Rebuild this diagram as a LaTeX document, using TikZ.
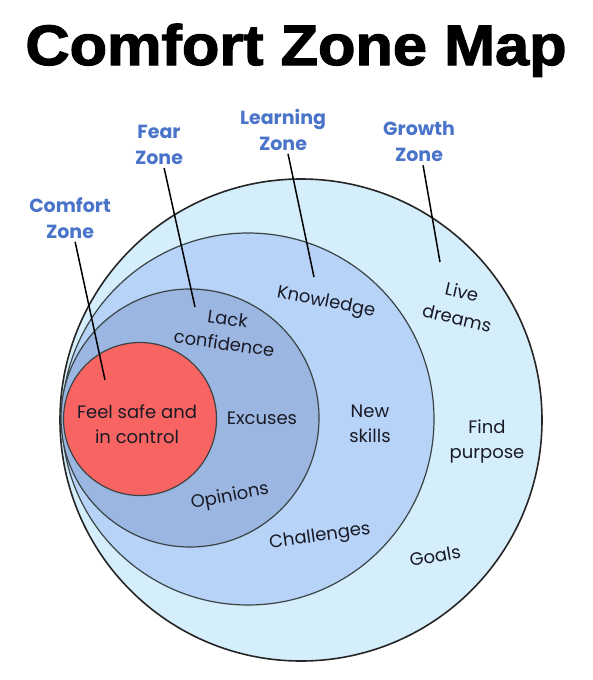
\documentclass[tikz,border=0pt]{standalone}
\usepackage{fontspec}
\setmainfont{Poppins}
\newfontfamily\titlefont[FakeBold=2]{Liberation Sans Bold}
\definecolor{growthfill}{HTML}{D5EEFB}
\definecolor{learnfill}{HTML}{B7D3F8}
\definecolor{fearfill}{HTML}{9CB6E2}
\definecolor{comfortfill}{HTML}{F86462}
\definecolor{zoneblue}{HTML}{4A74C9}
\definecolor{bodyink}{HTML}{1A1A26}
\definecolor{ringline}{HTML}{3A4444}
\tikzset{
  ring/.style={circle, draw=ringline, line width=1.2pt, inner sep=0pt},
  zonelabel/.style={font=\fontsize{19}{26}\selectfont\bfseries, text=zoneblue, align=center, inner sep=3pt},
  body/.style={font=\fontsize{18}{25}\selectfont, text=bodyink, align=center, inner sep=0pt},
  pointer/.style={draw=black, line width=1.5pt}
}
\begin{document}
\begin{tikzpicture}[x=1pt,y=-1pt]
\useasboundingbox (0,0) rectangle (593,680);
\fill[white] (0,0) rectangle (593,680);
% title
\node[font=\titlefont\fontsize{57}{60}\selectfont, xscale=1.075, anchor=base] (title) at (296,65) {Comfort Zone Map};
% rings
\node[ring, fill=growthfill, draw=black!85, line width=1.6pt, minimum size=482pt] (growth) at (301,420) {};
\node[ring, fill=learnfill, minimum size=372pt] (learning) at (248,419) {};
\node[ring, fill=fearfill, minimum size=258pt] (fear) at (190,418) {};
\node[ring, fill=comfortfill, minimum size=153pt] (comfort) at (140,419) {};
% zone labels
\node[zonelabel] (lblComfort) at (70,218) {Comfort\\Zone};
\node[zonelabel] (lblFear) at (159,145) {Fear\\Zone};
\node[zonelabel] (lblLearning) at (283,130) {Learning\\Zone};
\node[zonelabel] (lblGrowth) at (419,142) {Growth\\Zone};
% pointer ends
\coordinate (endComfort) at (105,380);
\coordinate (endFear) at (195,307);
\coordinate (endLearning) at (314,277);
\coordinate (endGrowth) at (440,262);
\draw[pointer] (lblComfort) -- (endComfort);
\draw[pointer] (lblFear) -- (endFear);
\draw[pointer] (lblLearning) -- (endLearning);
\draw[pointer] (lblGrowth) -- (endGrowth);
% body texts
\node[body] (tSafe) at (137,424) {Feel safe and\\in control};
\node[body] (tExcuses) at (262,418) {Excuses};
\node[body, rotate=-8] (tLack) at (226,331) {Lack\\confidence};
\node[body, rotate=11] (tOpinions) at (230,497) {Opinions};
\node[body, rotate=-11] (tKnow) at (326,303) {Knowledge};
\node[body, rotate=-13] (tLive) at (462,292) {Live};
\node[body, rotate=-13] (tDreams) at (457,318) {dreams};
\node[body] (tNew) at (370,424) {New\\skills};
\node[body] (tFind) at (487,441) {Find\\purpose};
\node[body, rotate=8] (tChall) at (320,537) {Challenges};
\node[body, rotate=10] (tGoals) at (435,556) {Goals};
\end{tikzpicture}
\end{document}
